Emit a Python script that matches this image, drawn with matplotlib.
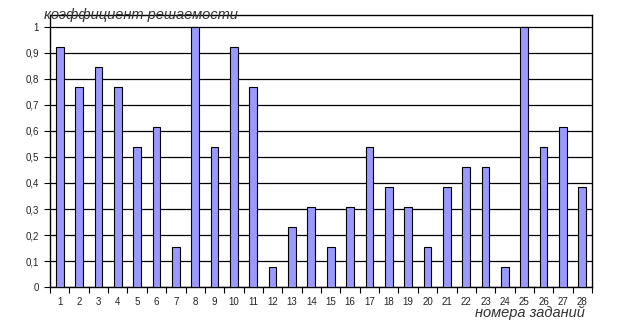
import matplotlib
matplotlib.use("Agg")
import matplotlib.pyplot as plt
import numpy as np

# task numbers and solve ratio
tasks = list(range(1, 29))
ratio = [0.923, 0.769, 0.846, 0.769, 0.538, 0.615, 0.154, 1.0, 0.538, 0.923,
         0.769, 0.077, 0.231, 0.308, 0.154, 0.308, 0.538, 0.385, 0.308, 0.154,
         0.385, 0.462, 0.462, 0.077, 1.0, 0.538, 0.615, 0.385]
yticks = [0, 0.1, 0.2, 0.3, 0.4, 0.5, 0.6, 0.7, 0.8, 0.9, 1.0]
ytick_labels = ["0", "0,1", "0,2", "0,3", "0,4", "0,5", "0,6", "0,7", "0,8", "0,9", "1"]

plt.rcParams['font.family'] = ['Liberation Sans', 'DejaVu Sans']

fig = plt.figure(figsize=(6.26, 3.32), dpi=100)
ax = fig.add_axes([0.0799, 0.1355, 0.8658, 0.8193])

x = np.arange(len(tasks))
ax.bar(x, ratio, width=0.40, color="#9999FF", edgecolor="black", linewidth=0.8, zorder=3)

ax.set_xlim(-0.5, len(tasks) - 0.5)
ax.set_ylim(0, 1.046)
ax.set_yticks(yticks)
ax.set_yticklabels(ytick_labels, fontsize=7, color="#222222")
ax.yaxis.grid(True, color="black", linewidth=0.9, zorder=0)

# ticks sit between categories, labels at centres
ax.set_xticks(np.arange(len(tasks) + 1) - 0.5)
ax.set_xticklabels([])
ax.set_xticks(x, minor=True)
ax.set_xticklabels([str(t) for t in tasks], minor=True, fontsize=7, color="#222222")
ax.tick_params(axis="x", which="major", direction="out", length=4, width=0.8)
ax.tick_params(axis="x", which="minor", length=0, pad=7)
ax.tick_params(axis="y", direction="out", length=4, width=0.8, pad=4)

for s in ax.spines.values():
    s.set_linewidth(1.0)
    s.set_color("black")

fig.text(0.071, 0.955, "коэффициент решаемости", fontsize=10.5, style="italic",
         color="#333333", va="center", ha="left")
fig.text(0.934, 0.058, "номера заданий", fontsize=10.5, style="italic",
         color="#333333", va="center", ha="right")

fig.savefig("out.png", dpi=100)
